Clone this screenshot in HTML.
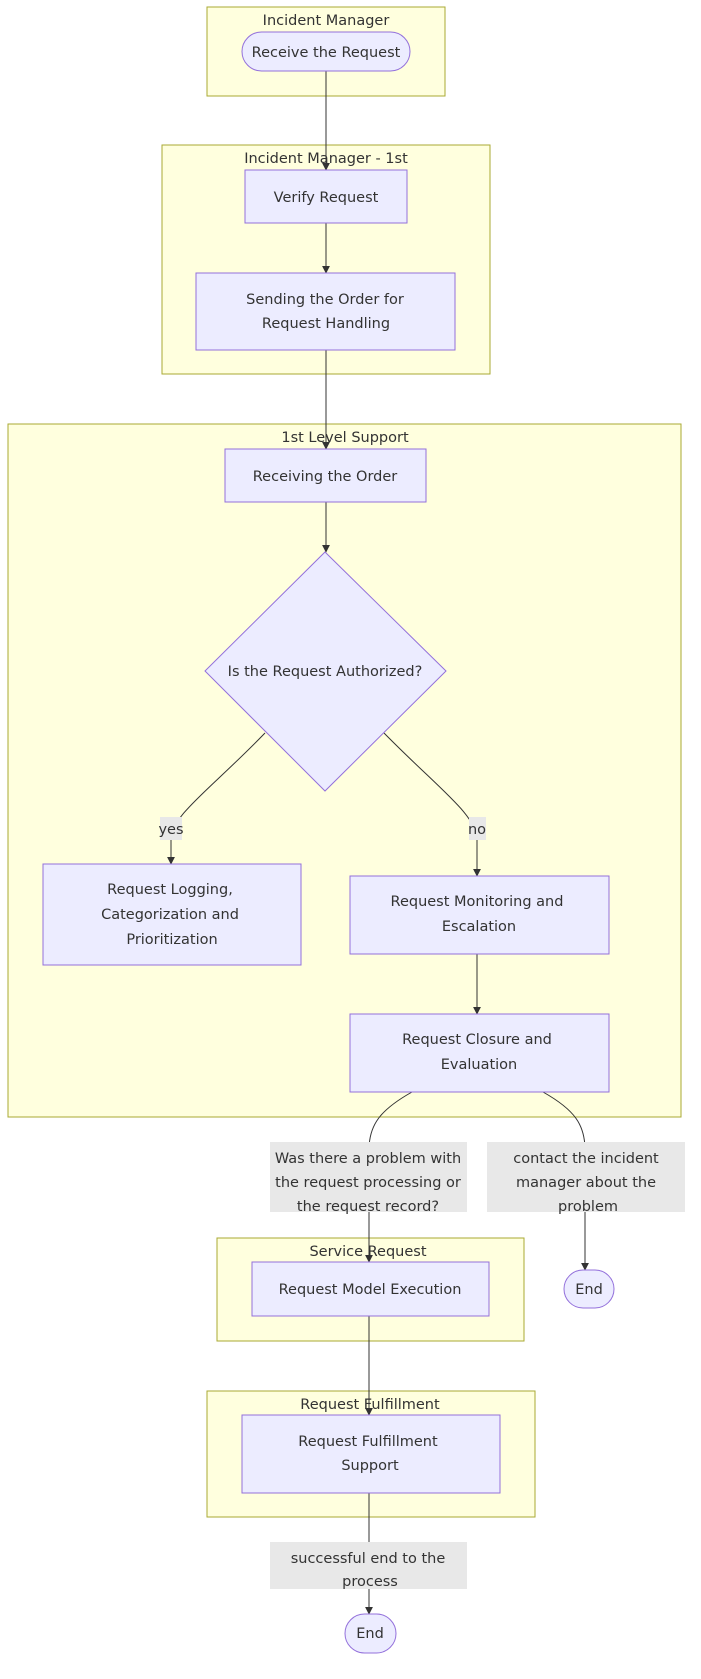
<!DOCTYPE html>
<html><head><meta charset="utf-8"><style>
html,body{margin:0;padding:0;background:#fff;}
svg{display:block;}
text{font-family:"DejaVu Sans","Liberation Sans",sans-serif;font-size:14.5px;fill:#333;}
.c{fill:#ffffde;stroke:#aaaa33;stroke-width:1;}
.n{fill:#ececff;stroke:#9370db;stroke-width:1;}
.e{fill:none;stroke:#333;stroke-width:1;}
.l{fill:#e8e8e8;}
</style></head><body>
<svg width="701" height="1679" viewBox="0 0 701 1679" xmlns="http://www.w3.org/2000/svg">
<defs><marker id="a" viewBox="0 0 10 10" refX="9" refY="5" markerWidth="8" markerHeight="8" orient="auto"><path d="M0,0L10,5L0,10z" fill="#333"/></marker></defs>
<!-- clusters -->
<rect class="c" x="207" y="7" width="238" height="89"/>
<rect class="c" x="162" y="145" width="328" height="229"/>
<rect class="c" x="8" y="424" width="673" height="693"/>
<rect class="c" x="217" y="1238" width="307" height="103"/>
<rect class="c" x="207" y="1391" width="328" height="126"/>
<g text-anchor="middle">
<text x="326" y="25">Incident Manager</text>
<text x="326" y="163">Incident Manager - 1st</text>
<text x="345" y="442">1st Level Support</text>
<text x="368" y="1256">Service Request</text>
<text x="370" y="1409">Request Fulfillment</text>
</g>
<!-- edges -->
<path class="e" d="M326,71V170" marker-end="url(#a)"/>
<path class="e" d="M326,223V273" marker-end="url(#a)"/>
<path class="e" d="M326,350V449" marker-end="url(#a)"/>
<path class="e" d="M326,502V552" marker-end="url(#a)"/>
<path class="e" d="M265,733C210,790 171,815 171,840V864" marker-end="url(#a)"/>
<path class="e" d="M384,733C440,790 477,815 477,840V876" marker-end="url(#a)"/>
<path class="e" d="M477,954V1014" marker-end="url(#a)"/>
<path class="e" d="M412,1092C380,1110 369,1125 369,1150V1262" marker-end="url(#a)"/>
<path class="e" d="M543,1092C575,1110 585,1125 585,1150V1270" marker-end="url(#a)"/>
<path class="e" d="M369,1316V1415" marker-end="url(#a)"/>
<path class="e" d="M369,1493V1614" marker-end="url(#a)"/>
<!-- edge labels -->
<rect class="l" x="160" y="817" width="22" height="23"/>
<rect class="l" x="469" y="817" width="17" height="23"/>
<rect class="l" x="270" y="1142" width="197" height="70"/>
<rect class="l" x="487" y="1142" width="198" height="70"/>
<rect class="l" x="270" y="1542" width="197" height="47"/>
<!-- nodes -->
<rect class="n" x="242" y="32" width="168" height="39" rx="19.5"/>
<rect class="n" x="245" y="170" width="162" height="53"/>
<rect class="n" x="196" y="273" width="259" height="77"/>
<rect class="n" x="225" y="449" width="201" height="53"/>
<polygon class="n" points="325,552 446,671 325,791 205,671"/>
<rect class="n" x="43" y="864" width="258" height="101"/>
<rect class="n" x="350" y="876" width="259" height="78"/>
<rect class="n" x="350" y="1014" width="259" height="78"/>
<rect class="n" x="252" y="1262" width="237" height="54"/>
<rect class="n" x="564" y="1270" width="50" height="38" rx="19"/>
<rect class="n" x="242" y="1415" width="258" height="78"/>
<rect class="n" x="345" y="1614" width="51" height="39" rx="19.5"/>
<g text-anchor="middle">
<text x="326" y="57">Receive the Request</text>
<text x="326" y="202">Verify Request</text>
<text x="325" y="304">Sending the Order for</text>
<text x="326" y="328">Request Handling</text>
<text x="325" y="481">Receiving the Order</text>
<text x="325" y="676">Is the Request Authorized?</text>
<text x="171" y="834">yes</text>
<text x="477" y="834">no</text>
<text x="170" y="894">Request Logging,</text>
<text x="170" y="919">Categorization and</text>
<text x="172" y="944">Prioritization</text>
<text x="477" y="906">Request Monitoring and</text>
<text x="479" y="931">Escalation</text>
<text x="477" y="1044">Request Closure and</text>
<text x="479" y="1069">Evaluation</text>
<text x="368" y="1163">Was there a problem with</text>
<text x="368" y="1187">the request processing or</text>
<text x="368" y="1211">the request record?</text>
<text x="586" y="1163">contact the incident</text>
<text x="586" y="1187">manager about the</text>
<text x="588" y="1211">problem</text>
<text x="370" y="1294">Request Model Execution</text>
<text x="589" y="1294">End</text>
<text x="368" y="1446">Request Fulfillment</text>
<text x="370" y="1470">Support</text>
<text x="368" y="1563">successful end to the</text>
<text x="370" y="1586">process</text>
<text x="370" y="1638">End</text>
</g>
</svg>
</body></html>
